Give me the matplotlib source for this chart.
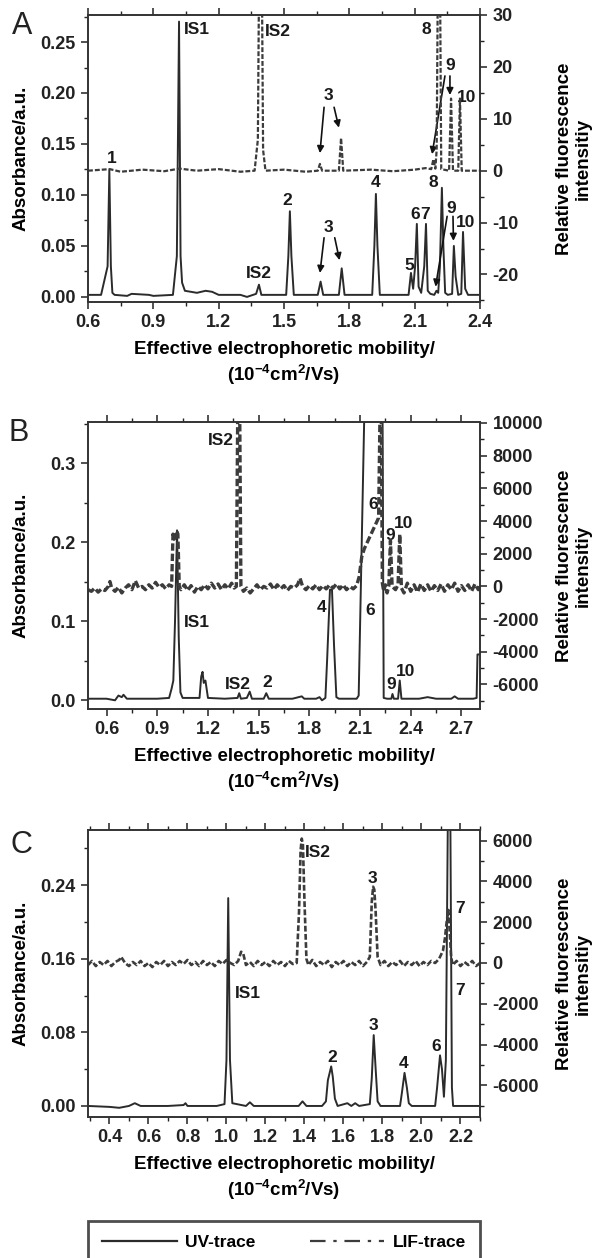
"""
Electropherograms (UV + LIF detection) for three samples, panels A-C.
Writes out.png (600 x 1258 px).
"""

import matplotlib
matplotlib.use("Agg")
import matplotlib.pyplot as plt
from matplotlib.lines import Line2D
from matplotlib.ticker import MultipleLocator, FormatStrFormatter

plt.rcParams["font.family"] = ["Liberation Sans", "DejaVu Sans"]
plt.rcParams["font.weight"] = "bold"
plt.rcParams["mathtext.fontset"] = "custom"
plt.rcParams["mathtext.rm"] = "Liberation Sans:bold"
plt.rcParams["mathtext.it"] = "Liberation Sans:bold"
plt.rcParams["mathtext.bf"] = "Liberation Sans:bold"

# -------------------------------------------------------------
# Panel A  (UV in absorbance, LIF in relative fluorescence)
# -------------------------------------------------------------
a_uv_x = [0.60, 0.66, 0.690, 0.698, 0.705, 0.712, 0.722, 0.78, 0.80, 0.88, 0.90,
          0.99, 1.008, 1.018, 1.025, 1.032, 1.045, 1.10, 1.14, 1.17, 1.20, 1.30,
          1.33, 1.372, 1.385, 1.396, 1.51, 1.520, 1.527, 1.534, 1.545, 1.655,
          1.668, 1.680, 1.752, 1.765, 1.778, 1.905, 1.915, 1.922, 1.929, 1.940,
          2.072, 2.083, 2.093, 2.102, 2.110, 2.118, 2.130, 2.144, 2.152, 2.160,
          2.172, 2.190, 2.200, 2.208, 2.216, 2.225, 2.232, 2.240, 2.252, 2.272,
          2.280, 2.288, 2.300, 2.314, 2.322, 2.332, 2.345, 2.40]
a_uv_y = [0.002, 0.002, 0.030, 0.1245, 0.030, 0.004, 0.002, 0.001, 0.003, 0.002, 0.001,
          0.002, 0.040, 0.270, 0.040, 0.014, 0.006, 0.004, 0.006, 0.005, 0.002, 0.002,
          0.000, 0.003, 0.012, 0.002, 0.002, 0.040, 0.084, 0.040, 0.002, 0.002,
          0.015, 0.002, 0.002, 0.028, 0.002, 0.002, 0.050, 0.101, 0.050, 0.002,
          0.002, 0.0235, 0.008, 0.030, 0.0716, 0.010, 0.004, 0.030, 0.0716, 0.006,
          0.003, 0.002, 0.006, 0.004, 0.030, 0.107, 0.048, 0.004, 0.002, 0.003,
          0.050, 0.020, 0.002, 0.003, 0.0637, 0.008, 0.002, 0.002]

a_lif_x = [0.60, 0.70, 0.75, 0.85, 0.95, 1.02, 1.10, 1.20, 1.30, 1.365, 1.380,
           1.386, 1.398, 1.404, 1.415, 1.50, 1.60, 1.655, 1.665, 1.675, 1.752,
           1.762, 1.772, 1.90, 2.00, 2.10, 2.150, 2.176, 2.186, 2.195, 2.201,
           2.207, 2.216, 2.222, 2.258, 2.267, 2.276, 2.300, 2.308, 2.316, 2.40]
a_lif_y = [0.0, 0.3, -0.2, 0.2, -0.1, 0.4, 0.0, 0.3, -0.2, 0.0, 6.0,
           40.0, 40.0, 4.0, 0.0, 0.2, -0.2, 0.0, 1.3, 0.0, 0.0,
           6.3, 0.0, 0.2, -0.1, 0.2, 0.5, 0.3, 2.2, 0.4, 4.0,
           40.0, 40.0, 0.3, 0.0, 13.9, 0.0, 0.0, 13.9, 0.0, 0.0]

a_labels = ["1", "IS1", "IS2", "8", "3", "9", "10",
            "2", "IS2", "3", "4", "5", "6", "7", "8", "9", "10"]
a_label_x = [0.710, 1.100, 1.472, 2.155, 1.702, 2.262, 2.338,
             1.514, 1.385, 1.702, 1.922, 2.075, 2.104, 2.150, 2.187, 2.268, 2.335]
a_label_y = [0.136, 0.262, 0.260, 0.262, 0.198, 0.227, 0.196,
             0.095, 0.0225, 0.0676, 0.112, 0.0306, 0.0806, 0.0806, 0.112, 0.087, 0.073]

# arrows: (x_from, y_from, x_to, y_to) in absorbance units
a_arrow_x0 = [1.684, 1.730, 2.239, 2.262, 1.684, 1.733, 2.249, 2.276]
a_arrow_y0 = [0.186, 0.186, 0.2167, 0.2167, 0.058, 0.058, 0.079, 0.079]
a_arrow_x1 = [1.665, 1.752, 2.180, 2.262, 1.665, 1.755, 2.196, 2.278]
a_arrow_y1 = [0.141, 0.166, 0.140, 0.198, 0.0235, 0.036, 0.010, 0.055]

# -------------------------------------------------------------
# Panel B
# -------------------------------------------------------------
b_uv_x = [0.49, 0.60, 0.65, 0.67, 0.69, 0.70, 0.72, 0.80, 0.90, 0.97, 0.985,
          0.995, 1.005, 1.017, 1.027, 1.037, 1.05, 1.15, 1.160, 1.168, 1.175,
          1.185, 1.20, 1.30, 1.375, 1.385, 1.395, 1.430, 1.447, 1.460, 1.530,
          1.545, 1.560, 1.70, 1.755, 1.770, 1.84, 1.86, 1.875, 1.895, 1.905,
          1.922, 1.934, 1.946, 1.960, 1.975, 2.08, 2.092, 2.126, 2.233, 2.240,
          2.26, 2.285, 2.292, 2.300, 2.325, 2.335, 2.345, 2.45, 2.50, 2.55, 2.64,
          2.66, 2.68, 2.77, 2.79, 2.795, 2.81]
b_uv_y = [0.002, 0.002, 0.000, 0.006, 0.004, 0.007, 0.002, 0.002, 0.002, 0.003, 0.015,
          0.025, 0.100, 0.215, 0.080, 0.010, 0.003, 0.003, 0.030, 0.036, 0.022,
          0.025, 0.003, 0.002, 0.003, 0.009, 0.002, 0.003, 0.011, 0.002, 0.002,
          0.009, 0.002, 0.002, 0.005, 0.002, 0.002, 0.004, 0.000, 0.003, 0.050,
          0.140, 0.140, 0.070, 0.004, 0.002, 0.002, 0.006, 0.370, 0.370, 0.003,
          0.002, 0.002, 0.008, 0.002, 0.002, 0.025, 0.002, 0.002, 0.004, 0.002, 0.002,
          0.005, 0.002, 0.002, 0.003, 0.058, 0.058]

b_lif_x = [0.49, 0.51, 0.53, 0.55, 0.57, 0.59, 0.61, 0.62, 0.63, 0.65, 0.67, 0.69,
           0.71, 0.73, 0.75, 0.77, 0.79, 0.81, 0.83, 0.85, 0.87, 0.89, 0.91, 0.93,
           0.95, 0.97, 0.985, 0.993, 1.000, 1.008, 1.015, 1.022, 1.030, 1.04, 1.06,
           1.08, 1.10, 1.12, 1.14, 1.16, 1.18, 1.20, 1.22, 1.24, 1.26, 1.28, 1.30,
           1.32, 1.34, 1.355, 1.368, 1.376, 1.388, 1.395, 1.41, 1.43, 1.45, 1.47,
           1.49, 1.51, 1.53, 1.55, 1.57, 1.59, 1.61, 1.63, 1.65, 1.67, 1.69, 1.71,
           1.73, 1.745, 1.76, 1.78, 1.80, 1.82, 1.84, 1.86, 1.88, 1.90, 1.92, 1.94,
           1.96, 1.98, 2.00, 2.02, 2.04, 2.06, 2.08, 2.095, 2.11, 2.125, 2.21,
           2.218, 2.226, 2.232, 2.24, 2.25, 2.26, 2.27, 2.28, 2.29, 2.31, 2.325,
           2.335, 2.345, 2.36, 2.38, 2.40, 2.42, 2.44, 2.46, 2.48, 2.50, 2.52,
           2.54, 2.56, 2.58, 2.60, 2.62, 2.64, 2.66, 2.68, 2.70, 2.72, 2.74, 2.76,
           2.78, 2.80, 2.81]
b_lif_y = [-200, -300, -100, -350, -150, -250, 0, 300, -100, -300, -50, -400,
           -100, 100, -200, 350, -100, 0, -200, 100, -100, 250, -50, 100,
           -150, 100, 0, 3200, 2900, 3000, 3400, 3200, 0, -200, 100,
           -250, 50, -350, 0, -200, 100, -150, 200, -100, 150, -200, 100,
           -150, 200, -100, 0, 10500, 10500, 0, -300, -100, -400, -150,
           100, -200, 0, -100, 150, -200, 100, -150, 50, -250, 0, -100,
           100, 500, 0, -200, 50, -150, 100, -200, 50, -150, 100, -100,
           150, -150, 100, -200, 0, -150, 50, 600, 1800, 2300, 4200,
           10500, 10500, 200, -300, 100, -400, 0, 2800, 0, -200, 100,
           3200, -100, -400, 200, -300, 100, -350, 150, -250, 100, -300,
           50, -250, 150, -300, 100, -200, 200, -300, 50, -250, 100, -300,
           150, -200, 0]

b_labels = ["IS2", "IS1", "IS2", "2", "4", "6", "6", "9", "10", "9", "10"]
b_label_x = [1.277, 1.133, 1.378, 1.552, 1.872, 2.179, 2.163, 2.277, 2.357, 2.282, 2.369]
b_label_y = [0.328, 0.099, 0.020, 0.0226, 0.117, 0.248, 0.114, 0.208, 0.223, 0.020, 0.036]

# -------------------------------------------------------------
# Panel C
# -------------------------------------------------------------
c_uv_x = [0.29, 0.40, 0.45, 0.50, 0.53, 0.56, 0.70, 0.78, 0.79, 0.80, 0.95,
          0.99, 1.000, 1.009, 1.018, 1.03, 1.10, 1.12, 1.14, 1.37, 1.39, 1.41,
          1.49, 1.51, 1.520, 1.528, 1.537, 1.545, 1.556, 1.57, 1.62, 1.64, 1.66,
          1.68, 1.735, 1.745, 1.755, 1.765, 1.775, 1.79, 1.89, 1.900, 1.913,
          1.925, 1.935, 1.95, 2.07, 2.080, 2.095, 2.105, 2.115, 2.125, 2.135,
          2.148, 2.156, 2.162, 2.30]
c_uv_y = [0.000, -0.001, -0.002, 0.000, 0.003, 0.000, 0.000, 0.001, 0.003, 0.000, 0.000,
          0.002, 0.050, 0.226, 0.050, 0.003, 0.000, 0.004, 0.000, 0.000, 0.005, 0.000,
          0.000, 0.005, 0.028, 0.035, 0.043, 0.032, 0.008, 0.000, 0.003, 0.000, 0.003,
          0.000, 0.002, 0.030, 0.077, 0.040, 0.005, 0.000, 0.000, 0.015, 0.036,
          0.020, 0.003, 0.000, 0.000, 0.020, 0.055, 0.040, 0.010, 0.050, 0.310,
          0.310, 0.020, 0.000, 0.000]

c_lif_x = [0.29, 0.31, 0.33, 0.35, 0.37, 0.39, 0.41, 0.43, 0.45, 0.46, 0.48, 0.50,
           0.52, 0.54, 0.56, 0.58, 0.60, 0.62, 0.64, 0.66, 0.68, 0.70, 0.72, 0.74,
           0.76, 0.78, 0.80, 0.82, 0.84, 0.86, 0.88, 0.90, 0.92, 0.94, 0.96, 0.98,
           1.00, 1.02, 1.04, 1.06, 1.075, 1.085, 1.10, 1.12, 1.14, 1.16, 1.18, 1.20,
           1.22, 1.24, 1.26, 1.28, 1.30, 1.32, 1.34, 1.36, 1.372, 1.380, 1.386,
           1.392, 1.400, 1.41, 1.42, 1.44, 1.46, 1.48, 1.50, 1.52, 1.54, 1.56, 1.58,
           1.60, 1.62, 1.64, 1.66, 1.68, 1.70, 1.72, 1.735, 1.745, 1.752, 1.758,
           1.765, 1.775, 1.79, 1.81, 1.83, 1.85, 1.87, 1.89, 1.91, 1.93, 1.95, 1.97,
           1.99, 2.01, 2.03, 2.05, 2.07, 2.09, 2.11, 2.12, 2.13, 2.138, 2.145, 2.152,
           2.16, 2.18, 2.20, 2.22, 2.24, 2.26, 2.28, 2.30]
c_lif_y = [-100, 100, -150, 50, -100, 100, -150, 50, 150, 300, 0, -150,
           50, -100, 100, -150, 0, -200, 50, -100, 100, -150, 50, -100,
           100, -50, 150, -100, 50, -150, 100, -100, 50, -150, 100, -50,
           150, 0, -100, 100, 550, 500, -100, 50, -150, 100, -100, 50,
           -150, 100, -100, 50, -150, 100, -50, 0, 2500, 5500, 6100,
           5800, 3000, 200, -100, 150, -150, 50, -100, 100, -200, 50, -100,
           100, -150, 50, -100, 100, -150, 50, 300, 3000, 3740, 3600,
           2500, 300, -100, 100, -150, 50, -100, 100, -150, 50, -100, 100,
           -150, 50, -100, 100, 0, 200, 600, 1200, 2100, 2600, 1500, 300,
           -100, 100, -150, 50, -100, 100, -150, 0]

c_labels = ["IS2", "3", "7", "7", "IS1", "3", "2", "4", "6"]
c_label_x = [1.468, 1.749, 2.196, 2.196, 1.112, 1.755, 1.543, 1.907, 2.077]
c_label_y = [0.2755, 0.2476, 0.215, 0.126, 0.122, 0.0877, 0.053, 0.046, 0.065]

# -------------------------------------------------------------
# Axis settings per panel
# -------------------------------------------------------------
panel_letters = ["A", "B", "C"]
x_limits = [(0.6, 2.4), (0.49, 2.81), (0.29, 2.30)]
x_major = [0.3, 0.3, 0.2]
x_minor = [0.15, 0.15, 0.1]
y_limits = [(-0.005, 0.2765), (-0.011, 0.352), (-0.012, 0.300)]
y_major = [0.05, 0.1, 0.08]
y_minor = [0.025, 0.05, 0.04]
y_format = ["%.2f", "%.1f", "%.2f"]
r_limits = [(-25.3, 30.0), (-7500, 10060), (-7550, 6520)]
r_major = [10, 2000, 2000]
r_minor = [5, 1000, 1000]

# -------------------------------------------------------------
# Plot
# -------------------------------------------------------------
W, H = 600, 1258
fig = plt.figure(figsize=(W / 100, H / 100), dpi=100)

ax_left, ax_w, ax_h = 88, 392, 287
ax_tops = [15, 422, 830]
letter_pos = [(22, 26), (19, 433), (21, 845)]

trace_col = "#2b2b2b"
lif_col = "#3c3c3c"
lif_dense = (0, (2.2, 0.9))            # fuzzy dotted look inside the plots
lif_legend = (0, (7, 3.5, 1.5, 3.5))   # dash-dot shown in the key
lbl_size = 12.5

uv_sets = [(a_uv_x, a_uv_y), (b_uv_x, b_uv_y), (c_uv_x, c_uv_y)]
lif_sets = [(a_lif_x, a_lif_y), (b_lif_x, b_lif_y), (c_lif_x, c_lif_y)]
label_sets = [(a_labels, a_label_x, a_label_y),
              (b_labels, b_label_x, b_label_y),
              (c_labels, c_label_x, c_label_y)]
lif_widths = [1.6, 2.4, 1.9]

for i in range(3):
    top = ax_tops[i]
    rect = [ax_left / W, 1 - (top + ax_h) / H, ax_w / W, ax_h / H]
    ax = fig.add_axes(rect)
    ax2 = ax.twinx()

    ax.plot(uv_sets[i][0], uv_sets[i][1], color=trace_col, lw=1.4,
            solid_joinstyle="round")
    ax2.plot(lif_sets[i][0], lif_sets[i][1], color=lif_col,
             lw=lif_widths[i], linestyle=lif_dense)

    ax.set_xlim(*x_limits[i])
    ax.set_ylim(*y_limits[i])
    ax2.set_ylim(*r_limits[i])

    ax.xaxis.set_major_locator(MultipleLocator(x_major[i]))
    ax.xaxis.set_minor_locator(MultipleLocator(x_minor[i]))
    ax.xaxis.set_major_formatter(FormatStrFormatter("%.1f"))
    ax.yaxis.set_major_locator(MultipleLocator(y_major[i]))
    ax.yaxis.set_minor_locator(MultipleLocator(y_minor[i]))
    ax.yaxis.set_major_formatter(FormatStrFormatter(y_format[i]))
    ax2.yaxis.set_major_locator(MultipleLocator(r_major[i]))
    ax2.yaxis.set_minor_locator(MultipleLocator(r_minor[i]))
    ax2.yaxis.set_major_formatter(FormatStrFormatter("%d"))

    for a in (ax, ax2):
        a.tick_params(which="major", direction="out", length=5, width=1.1,
                      labelsize=13, pad=4, colors="#222222")
        a.tick_params(which="minor", direction="out", length=3, width=1.0,
                      colors="#222222")
        for s in a.spines.values():
            s.set_linewidth(1.2)
            s.set_color("#333333")
    ax.tick_params(which="both", top=True)
    for t in ax.get_xticklabels() + ax.get_yticklabels() + ax2.get_yticklabels():
        t.set_fontweight("bold")

    ax.set_ylabel("Absorbance/a.u.", fontsize=13.5, fontweight="bold", va="center")
    ax.yaxis.set_label_coords(-0.17, 0.5)
    ax2.set_ylabel("Relative fluorescence\nintensitiy", fontsize=13.5,
                   fontweight="bold", va="center", linespacing=1.1)
    ax2.yaxis.set_label_coords(1.24, 0.5)
    ax.set_xlabel("Effective electrophoretic mobility/\n(10$^{-4}$cm$^{2}$/Vs)",
                  fontsize=13.5, fontweight="bold", va="center", linespacing=1.25)
    ax.xaxis.set_label_coords(0.5, -62 / ax_h)

    labels, lx, ly = label_sets[i]
    for txt, x, y in zip(labels, lx, ly):
        ax.text(x, y, txt, ha="center", va="center", fontsize=lbl_size,
                fontweight="bold", color="#1a1a1a", zorder=5)

    if i == 0:
        for x0, y0, x1, y1 in zip(a_arrow_x0, a_arrow_y0, a_arrow_x1, a_arrow_y1):
            ax.annotate("", xy=(x1, y1), xytext=(x0, y0),
                        arrowprops=dict(arrowstyle="-|>", color="#111111", lw=1.2,
                                        mutation_scale=10, shrinkA=0, shrinkB=0))

    lx_, ly_ = letter_pos[i]
    fig.text(lx_ / W, 1 - ly_ / H, panel_letters[i], fontsize=22,
             fontweight="normal", ha="center", va="center", color="#222222")

# key: proxies carry the trace styles
key_handles = [Line2D([], [], color=trace_col, lw=1.6),
               Line2D([], [], color=lif_col, lw=1.6, linestyle=lif_legend)]
leg = fig.legend(key_handles, ["UV-trace", "LIF-trace"],
                 loc="upper left",
                 bbox_to_anchor=(ax_left / W, 1 - 1221 / H, ax_w / W, 0),
                 mode="expand", ncol=2, frameon=True, fancybox=False,
                 borderpad=0.8, borderaxespad=0, handlelength=4.3,
                 handletextpad=0.5, prop={"weight": "bold", "size": 12.5})
leg.get_frame().set_edgecolor("#222222")
leg.get_frame().set_linewidth(2.0)

fig.savefig("out.png", dpi=100)
